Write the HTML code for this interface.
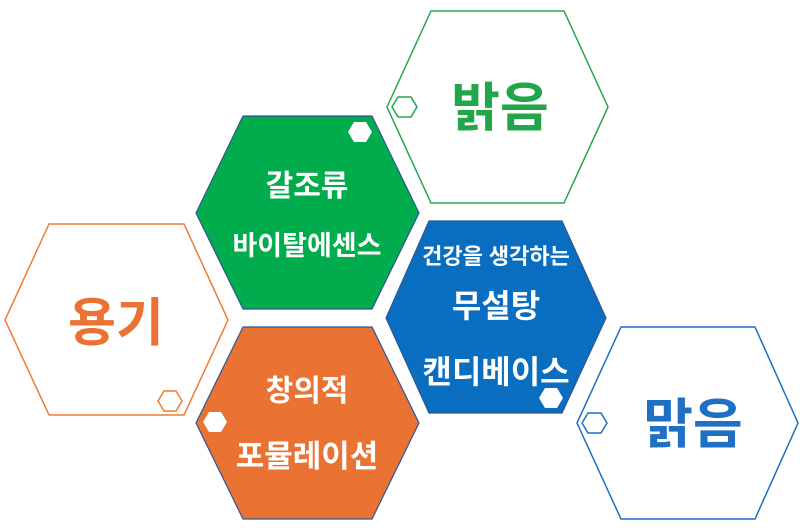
<!DOCTYPE html>
<html><head><meta charset="utf-8"><style>
html,body{margin:0;padding:0;background:#fff}
svg{display:block}
text{font-family:"Liberation Sans","Noto Sans CJK KR",sans-serif;font-weight:bold;text-anchor:middle}
</style></head><body>
<svg width="800" height="530" viewBox="0 0 800 530">
<polygon points="387,107 431,11 564,11 608,107 564,203 431,203" fill="#fff" stroke="#22a64a" stroke-width="1.5"/>
<polygon points="5,320 49,224 184,224 228,320 184,415 49,415" fill="#fff" stroke="#ee7d31" stroke-width="1.5"/>
<polygon points="577,423 621,327 755,327 798,423 755,519 621,519" fill="#fff" stroke="#1f6fc4" stroke-width="1.5"/>
<polygon points="196,213 243,116 372,116 419,213 372,309 243,309" fill="#00ac4c" stroke="#2f5597" stroke-width="1.2"/>
<polygon points="386,318 429,221 562,221 606,318 562,413 429,413" fill="#0a6ec0" stroke="#2f5597" stroke-width="1.2"/>
<polygon points="196,423 243,327 372,327 419,423 372,519 243,519" fill="#ea7232" stroke="#2f5597" stroke-width="1.2"/>
<polygon points="392,107 398,97 411,97 417,107 411,117 398,117" fill="#fff" stroke="#22a64a" stroke-width="1.5"/>
<polygon points="348,132 354,122 366,122 372,132 366,142 354,142" fill="#fff"/>
<polygon points="158,401 164,391 176,391 182,401 176,411 164,411" fill="#fff" stroke="#ee7d31" stroke-width="1.5"/>
<polygon points="203,422 209,412 221,412 227,422 221,432 209,432" fill="#fff"/>
<polygon points="539,398 545,388 557,388 563,398 557,408 545,408" fill="#fff"/>
<polygon points="582,423 588,413 601,413 607,423 601,433 588,433" fill="#fff" stroke="#1f6fc4" stroke-width="1.5"/>
<text x="500" y="126" font-size="53" fill="#22a64a">밝음</text>
<text x="116" y="341" font-size="52" fill="#ea7232">용기</text>
<text x="693" y="443" font-size="54" fill="#1f6fc4">맑음</text>
<text x="307" y="196" font-size="30" fill="#fff">갈조류</text>
<text x="307" y="255" font-size="27" fill="#fff">바이탈에센스</text>
<text x="496" y="264" font-size="22" fill="#fff">건강을 생각하는</text>
<text x="496" y="317" font-size="32" fill="#fff">무설탕</text>
<text x="496" y="383" font-size="32" fill="#fff">캔디베이스</text>
<text x="307" y="401" font-size="30" fill="#fff">창의적</text>
<text x="307" y="467" font-size="31" fill="#fff">포뮬레이션</text>
</svg>
</body></html>
